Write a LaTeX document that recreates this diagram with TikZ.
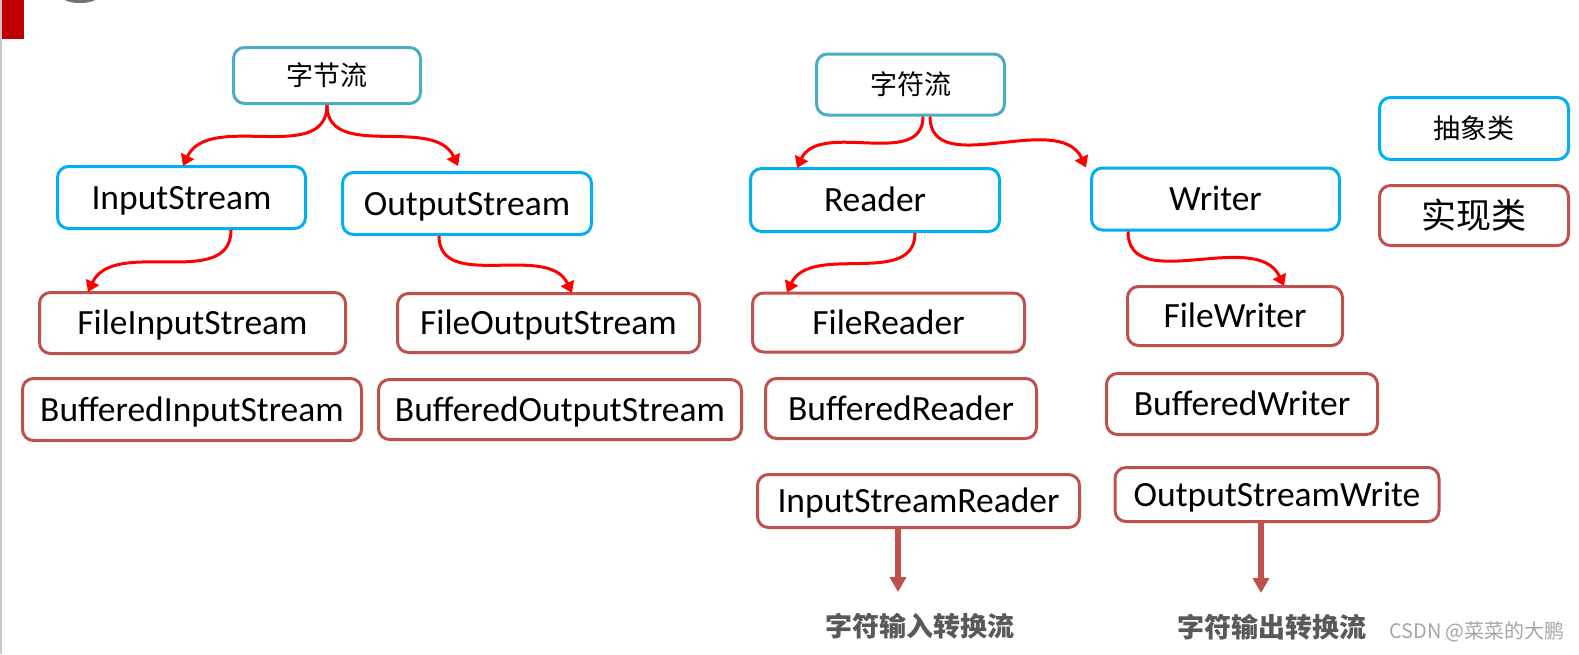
\documentclass[tikz,border=0pt]{standalone}
\usepackage{fontspec}
\setmainfont{Carlito}
\newfontfamily\cjk{Noto Sans CJK SC}
\usetikzlibrary{arrows.meta}
\definecolor{absblue}{HTML}{00B0F0}
\definecolor{rootteal}{HTML}{4BACC6}
\definecolor{implred}{HTML}{C0504D}
\definecolor{barred}{HTML}{C00000}
\definecolor{labgray}{HTML}{595959}
\definecolor{wmgray}{HTML}{A6A6A6}
\definecolor{edgegray}{HTML}{C8C8C8}
\tikzset{
  boxbase/.style={draw, line width=3pt, rounded corners=11pt, fill=white, inner sep=0pt, align=center},
  engtext/.style={font=\fontsize{35.5}{40}\selectfont, text height=30pt, text depth=7pt},
  absbox/.style={boxbase, engtext, draw=absblue},
  implbox/.style={boxbase, engtext, draw=implred},
  rootbox/.style={boxbase, draw=rootteal, font=\cjk\fontsize{27}{32}\selectfont},
  legabsbox/.style={boxbase, draw=absblue, font=\cjk\fontsize{27}{32}\selectfont},
  legimplbox/.style={boxbase, draw=implred, font=\cjk\fontsize{35}{40}\selectfont},
  carrow/.style={draw=red, line width=3pt, -{Triangle[width=14pt,length=11pt]}},
  varrow/.style={draw=implred, line width=5.5pt, -{Triangle[width=16pt,length=15pt]}},
  convlab/.style={font=\cjk\bfseries\fontsize{27}{32}\selectfont, text=labgray, inner sep=0pt},
}
\begin{document}
\begin{tikzpicture}[x=1pt,y=-1pt]
\useasboundingbox (0,0) rectangle (1579,654);
\fill[white] (0,0) rectangle (1579,654);
% page decorations
\fill[edgegray] (0,0) rectangle (2,654);
\fill[barred] (2,0) rectangle (24,39);
\fill[black!55] (65,0) .. controls (70,4) and (90,4) .. (95,0) -- cycle;

% byte streams
\node[rootbox, minimum width=187pt, minimum height=56pt] (byte) at (327,75.5) {字节流};
\node[absbox, minimum width=248pt, minimum height=62pt] (is) at (181.5,197.5) {InputStream};
\node[absbox, minimum width=249pt, minimum height=62pt] (os) at (467,203.5) {OutputStream};
\node[implbox, minimum width=306pt, minimum height=61pt] (fis) at (192.5,323) {FileInputStream};
\node[implbox, minimum width=339pt, minimum height=62pt] (bis) at (192,409.5) {BufferedInputStream};
\node[implbox, minimum width=302pt, minimum height=59pt] (fos) at (548.5,323) {FileOutputStream};
\node[implbox, minimum width=363pt, minimum height=60pt] (bos) at (560,409.5) {BufferedOutputStream};

% char streams
\node[rootbox, minimum width=188pt, minimum height=61pt] (char) at (910.5,84.5) {字符流};
\node[absbox, minimum width=249pt, minimum height=63pt] (rd) at (875,200) {Reader};
\node[absbox, minimum width=248pt, minimum height=62pt] (wr) at (1215.5,199) {Writer};
\node[implbox, minimum width=272pt, minimum height=59pt] (frd) at (888.5,322.5) {FileReader};
\node[implbox, minimum width=215pt, minimum height=59pt] (fwr) at (1235,316) {FileWriter};
\node[implbox, minimum width=271pt, minimum height=60pt] (brd) at (901,408.5) {BufferedReader};
\node[implbox, minimum width=271pt, minimum height=61pt] (bwr) at (1242,404) {BufferedWriter};
\node[implbox, minimum width=322pt, minimum height=53pt] (isr) at (918.5,501) {InputStreamReader};
\node[implbox, minimum width=324pt, minimum height=54pt] (osw) at (1277,494.5) {OutputStreamWrite};

% legend
\node[legabsbox, minimum width=189pt, minimum height=62pt] (legabs) at (1474,128.5) {抽象类};
\node[legimplbox, minimum width=189pt, minimum height=60pt] (legimpl) at (1474,215.5) {实现类};

% conversion labels
\node[convlab] (isrlab) at (920,626) {字符输入转换流};
\node[convlab] (oswlab) at (1272,627) {字符输出转换流};
\node[font=\cjk\fontsize{20}{24}\selectfont, text=wmgray, inner sep=0pt] (wm) at (1477,632) {CSDN @菜菜的大鹏};

% curved connectors
\draw[carrow] (byte.south) to[out=-90,in=65] ([xshift=1.5pt,yshift=-1pt]is.north);
\draw[carrow] (byte.south) to[out=-90,in=115] ([xshift=-9pt,yshift=5pt]os.north);
\draw[carrow] ([xshift=49.5pt]is.south) to[out=-90,in=65] ([xshift=-104.5pt,yshift=-1pt]fis.north);
\draw[carrow] ([xshift=-28pt]os.south) to[out=-90,in=115] ([xshift=23.5pt,yshift=-1pt]fos.north);
\draw[carrow] ([xshift=12.5pt]char.south) to[out=-90,in=65] ([xshift=-78pt,yshift=-1pt]rd.north);
\draw[carrow] ([xshift=19.5pt]char.south) to[out=-90,in=115] ([xshift=-129.5pt,yshift=-1pt]wr.north);
\draw[carrow] ([xshift=40pt]rd.south) to[out=-90,in=65] ([xshift=-101.5pt,yshift=-1pt]frd.north);
\draw[carrow] ([xshift=-87.5pt]wr.south) to[out=-90,in=115] ([xshift=49pt,yshift=-1pt]fwr.north);

% straight conversion arrows
\coordinate (isrend) at (898,592);
\coordinate (oswend) at (1261,593);
\draw[varrow] ([xshift=-20.5pt]isr.south) -- (isrend);
\draw[varrow] ([xshift=-16pt]osw.south) -- (oswend);
\end{tikzpicture}
\end{document}
